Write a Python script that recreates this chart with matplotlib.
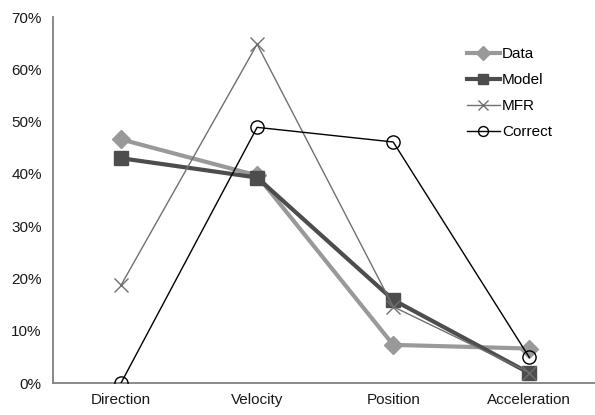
import matplotlib.pyplot as plt
from matplotlib.ticker import PercentFormatter

categories = ['Direction', 'Velocity', 'Position', 'Acceleration']
data_vals = [46.6, 39.7, 7.3, 6.6]
model_vals = [43.0, 39.3, 15.9, 1.9]
mfr_vals = [18.7, 64.8, 14.6, 2.0]
correct_vals = [0.0, 48.9, 46.1, 4.9]

plt.rcParams['font.family'] = ['Liberation Sans', 'DejaVu Sans']

fig = plt.figure(figsize=(5.95, 4.15), dpi=100)
ax = fig.add_axes([0.089, 0.077, 0.915, 0.882])

x = range(len(categories))
ax.plot(x, data_vals, color='#999999', lw=3, marker='D', ms=9,
        label='Data', zorder=3)
ax.plot(x, model_vals, color='#4d4d4d', lw=3, marker='s', ms=9.5,
        label='Model', zorder=4)
ax.plot(x, mfr_vals, color='#707070', lw=1, marker='x', ms=10, mew=1,
        label='MFR', zorder=5)
ax.plot(x, correct_vals, color='black', lw=1, marker='o', ms=9.5,
        mfc='none', mew=1, label='Correct', zorder=6)

ax.set_xlim(-0.5, 3.5)
ax.set_ylim(0, 70)
ax.set_yticks(range(0, 71, 10))
ax.yaxis.set_major_formatter(PercentFormatter(decimals=0))
ax.set_xticks(list(x))
ax.set_xticklabels(categories)
ax.tick_params(length=0, labelsize=11, colors='#1a1a1a', pad=7)
ax.tick_params(axis='y', pad=8)

for side in ['top', 'right']:
    ax.spines[side].set_visible(False)
for side in ['left', 'bottom']:
    ax.spines[side].set_color('#808080')
    ax.spines[side].set_linewidth(1.3)

ax.legend(loc='upper left', bbox_to_anchor=(0.735, 0.955), frameon=False,
          fontsize=11, handlelength=2.15, handletextpad=0.15,
          labelspacing=0.78, markerscale=0.75)

fig.savefig('out.png', dpi=100)
